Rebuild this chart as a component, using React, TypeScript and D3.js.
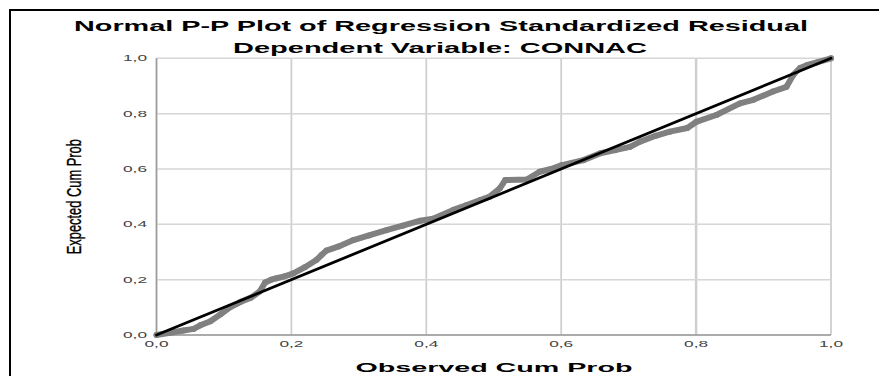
import React from "react";
import * as d3 from "d3";

const title1 = "Normal P-P Plot of Regression Standardized Residual";
const title2 = "Dependent Variable: CONNAC";
const xTitle = "Observed Cum Prob";
const yTitle = "Expected Cum Prob";

const tickValues = [0, 0.2, 0.4, 0.6, 0.8, 1.0];
const tickLabels = ["0,0", "0,2", "0,4", "0,6", "0,8", "1,0"];

// Observed cumulative probability (x)
const observed = [
  0, 0.02, 0.04, 0.055, 0.065, 0.08, 0.095, 0.109, 0.125, 0.14, 0.153, 0.161,
  0.17, 0.178, 0.19, 0.203, 0.22, 0.237, 0.245, 0.252, 0.27, 0.292, 0.315,
  0.341, 0.365, 0.391, 0.41, 0.44, 0.46, 0.48, 0.494, 0.509, 0.517, 0.549,
  0.568, 0.585, 0.601, 0.633, 0.658, 0.68, 0.702, 0.717, 0.74, 0.761, 0.787,
  0.8, 0.83, 0.865, 0.885, 0.914, 0.934, 0.944, 0.954, 0.964, 0.979, 1.0,
];
// Expected cumulative probability (y)
const expected = [
  0, 0.008, 0.016, 0.022, 0.035, 0.05, 0.075, 0.1, 0.12, 0.135, 0.157, 0.19,
  0.2, 0.205, 0.212, 0.223, 0.245, 0.271, 0.29, 0.305, 0.32, 0.343, 0.36,
  0.379, 0.395, 0.413, 0.42, 0.452, 0.47, 0.488, 0.5, 0.53, 0.56, 0.562,
  0.59, 0.6, 0.614, 0.632, 0.657, 0.668, 0.68, 0.699, 0.72, 0.735, 0.748,
  0.77, 0.795, 0.837, 0.85, 0.88, 0.897, 0.94, 0.965, 0.975, 0.985, 1.0,
];

const diagonal = [0, 1];

export default function App() {
  const W = 879;
  const H = 376;
  const x = d3.scaleLinear().domain([0, 1]).range([156.5, 831]);
  const y = d3.scaleLinear().domain([0, 1]).range([335, 58.3]);

  const pts = observed.map((o, i) => [o, expected[i]] as [number, number]);
  const band = d3
    .line<[number, number]>()
    .x((d) => x(d[0]))
    .y((d) => y(d[1]))(pts) as string;
  const diag = d3
    .line<number>()
    .x((d) => x(d))
    .y((d) => y(d))(diagonal) as string;

  const font = "'Liberation Sans', Arial, sans-serif";
  const [x0, x1] = x.range();
  const [y0, y1] = y.range();

  return (
    <svg
      width={W}
      height={H}
      style={{ position: "absolute", left: 0, top: 0, background: "#fff" }}
    >
      <rect x={0} y={0} width={W} height={H} fill="#fff" />
      <rect x={10} y={10} width={W + 20} height={H + 20} fill="none" stroke="#000" strokeWidth={2} />

      {/* grid */}
      {tickValues.map((t, i) => (
        <line key={"gx" + i} x1={x(t)} x2={x(t)} y1={y1} y2={y0} stroke="#cfcfcf" strokeWidth={i === 4 ? 2.5 : 1.8} />
      ))}
      {tickValues.map((t, i) => (
        <line key={"gy" + i} x1={x0} x2={x1} y1={y(t)} y2={y(t)} stroke="#d6d6d6" strokeWidth={1.5} />
      ))}
      {/* axes */}
      <line x1={x0} x2={x0} y1={y1} y2={y0} stroke="#9a9a9a" strokeWidth={1.5} />
      <line x1={x0} x2={x1} y1={y0} y2={y0} stroke="#9a9a9a" strokeWidth={1.5} />

      {/* data */}
      <path d={band} fill="none" stroke="#808080" strokeWidth={6} strokeLinecap="round" strokeLinejoin="round" />
      {pts.map((p, i) => (
        <circle key={"p" + i} cx={x(p[0])} cy={y(p[1])} r={3} fill="#808080" />
      ))}
      <path d={diag} fill="none" stroke="#000" strokeWidth={2.8} strokeLinecap="round" />

      {/* tick labels */}
      {tickValues.map((t, i) => (
        <text
          key={"ty" + i}
          x={147}
          y={y(t) + 3}
          textAnchor="end"
          fontFamily={font}
          fontSize={9}
          fill="#444"
          textLength={24}
          lengthAdjust="spacingAndGlyphs"
        >
          {tickLabels[i]}
        </text>
      ))}
      {tickValues.map((t, i) => (
        <text
          key={"tx" + i}
          x={x(t)}
          y={346.5}
          textAnchor="middle"
          fontFamily={font}
          fontSize={9}
          fill="#444"
          textLength={24}
          lengthAdjust="spacingAndGlyphs"
        >
          {tickLabels[i]}
        </text>
      ))}

      {/* titles */}
      <text x={441} y={31} textAnchor="middle" fontFamily={font} fontWeight="bold" fontSize={14} fill="#000" textLength={734} lengthAdjust="spacingAndGlyphs">
        {title1}
      </text>
      <text x={440} y={53} textAnchor="middle" fontFamily={font} fontWeight="bold" fontSize={14} fill="#000" textLength={414} lengthAdjust="spacingAndGlyphs">
        {title2}
      </text>
      <text x={494} y={372} textAnchor="middle" fontFamily={font} fontWeight="bold" fontSize={12} fill="#000" textLength={277} lengthAdjust="spacingAndGlyphs">
        {xTitle}
      </text>
      <g transform={`translate(81,${(y0 + y1) / 2}) rotate(-90) scale(0.66,1)`}>
        <text x={0} y={0} textAnchor="middle" fontFamily={font} fontSize={19.5} fill="#000" stroke="#000" strokeWidth={0.35}>
          {yTitle}
        </text>
      </g>
    </svg>
  );
}
